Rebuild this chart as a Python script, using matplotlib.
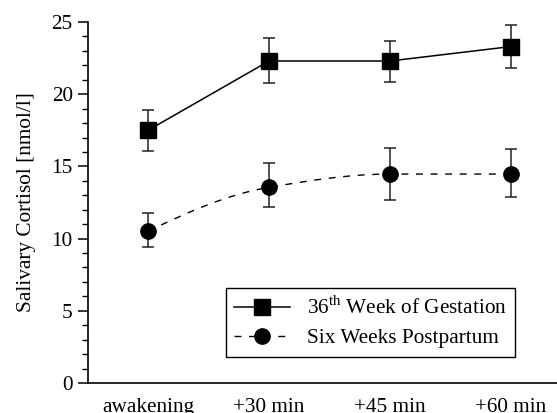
import matplotlib
matplotlib.use("Agg")
import matplotlib.pyplot as plt
import numpy as np
from matplotlib.path import Path
from matplotlib.patches import PathPatch
from matplotlib.lines import Line2D
from matplotlib.ticker import MultipleLocator

plt.rcParams['font.family'] = ['Liberation Serif', 'DejaVu Serif']
plt.rcParams['mathtext.fontset'] = 'custom'
plt.rcParams['mathtext.rm'] = 'Liberation Serif'

categories = ["awakening", "+30 min", "+45 min", "+60 min"]
gest_mean = [17.5, 22.3, 22.3, 23.3]
gest_lo = [16.1, 20.75, 20.85, 21.8]
gest_hi = [18.9, 23.9, 23.7, 24.8]
post_mean = [10.5, 13.55, 14.47, 14.47]
post_lo = [9.45, 12.2, 12.7, 12.85]
post_hi = [11.75, 15.25, 16.3, 16.2]
labels = ["36$^{\\mathrm{th}}$ Week of Gestation", "Six Weeks Postpartum"]

FS = 15.3
fig = plt.figure(figsize=(5.57, 4.13), dpi=100)
ax = fig.add_axes([88/557, 1 - 383/413, 1 - 88/557, (383 - 22)/413])

x = np.arange(len(categories))

# Gestation: solid line with squares
gm = np.array(gest_mean)
ax.plot(x, gm, color='black', lw=1.1, zorder=2)
ax.errorbar(x, gm, yerr=[gm - np.array(gest_lo), np.array(gest_hi) - gm],
            fmt='s', color='black', ms=11, ecolor='#222222', elinewidth=1.1,
            capsize=4, capthick=1.1, zorder=3)

# Postpartum: smooth dashed curve (monotone cubic through the points)
pm = np.array(post_mean, dtype=float)
d = np.diff(pm) / np.diff(x)
m = np.zeros_like(pm)
for i in range(1, len(pm) - 1):
    if d[i - 1] * d[i] <= 0:
        m[i] = 0.0
    else:
        m[i] = 2.0 / (1.0 / d[i - 1] + 1.0 / d[i])
m[0] = (3 * d[0] - d[1]) / 2
m[-1] = 0.0 if d[-1] == 0 else d[-1]
verts = [(x[0], pm[0])]
codes = [Path.MOVETO]
for i in range(len(pm) - 1):
    h = x[i + 1] - x[i]
    verts += [(x[i] + h / 3, pm[i] + m[i] * h / 3),
              (x[i + 1] - h / 3, pm[i + 1] - m[i + 1] * h / 3),
              (x[i + 1], pm[i + 1])]
    codes += [Path.CURVE4] * 3
ax.add_patch(PathPatch(Path(verts, codes), fill=False, edgecolor='black',
                       lw=1.0, linestyle=(0, (5, 5.5)), zorder=2))
ax.errorbar(x, pm, yerr=[pm - np.array(post_lo), np.array(post_hi) - pm],
            fmt='o', color='black', ms=11, ecolor='#222222', elinewidth=1.1,
            capsize=4, capthick=1.1, zorder=3)

ax.set_xlim(-0.496, 3.38)
ax.set_ylim(0, 25)
ax.set_xticks(x)
ax.set_xticklabels(categories, fontsize=FS)
ax.tick_params(axis='x', length=0, pad=11)
ax.yaxis.set_major_locator(MultipleLocator(5))
ax.yaxis.set_minor_locator(MultipleLocator(1))
ax.tick_params(axis='y', which='major', length=7, width=1.1, labelsize=FS, pad=4)
ax.tick_params(axis='y', which='minor', length=4, width=1.0)
for s in ['top', 'right']:
    ax.spines[s].set_visible(False)
for s in ['left', 'bottom']:
    ax.spines[s].set_linewidth(1.2)
ax.set_ylabel("Salivary Cortisol [nmol/l]", fontsize=FS, labelpad=11)

handles = [
    Line2D([], [], color='black', lw=1.1, marker='s', ms=11),
    Line2D([], [], color='black', lw=1.0, linestyle=(0, (5, 5.5)), marker='o', ms=11),
]
leg = ax.legend(handles, labels, loc='lower right',
                bbox_to_anchor=((515 - 88) / 469, (383 - 357) / 361),
                borderaxespad=0,
                fontsize=FS, frameon=True, fancybox=False, framealpha=1,
                edgecolor='black', handlelength=2.6, labelspacing=0.45,
                borderpad=0.4, handletextpad=0.8)
leg.get_frame().set_linewidth(1.0)

fig.savefig("out.png", dpi=100)
